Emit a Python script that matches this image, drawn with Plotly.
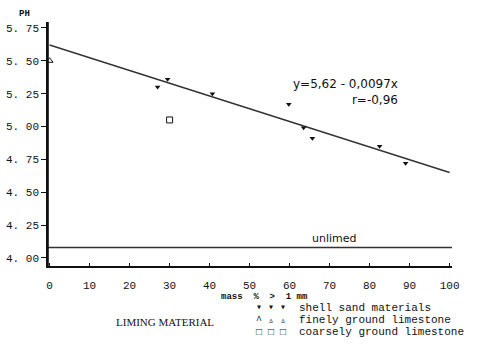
import plotly.graph_objects as go

# pH against the share of the liming material coarser than 1 mm
shell_mass = [27, 29.5, 40.7, 59.8, 63.5, 65.7, 82.5, 89]
shell_ph = [5.30, 5.36, 5.25, 5.17, 4.99, 4.91, 4.85, 4.72]
fine_mass = [0]
fine_ph = [5.50]
coarse_mass = [30]
coarse_ph = [5.05]

fit_intercept = 5.62
fit_slope = -0.0097
fit_x = [0, 100]
unlimed_ph = 4.08

y_ticks = [4.00, 4.25, 4.50, 4.75, 5.00, 5.25, 5.50, 5.75]
y_tick_labels = ["4. 00", "4. 25", "4. 50", "4. 75", "5. 00", "5. 25", "5. 50", "5. 75"]
x_ticks = [0, 10, 20, 30, 40, 50, 60, 70, 80, 90, 100]
x_tick_labels = ["0", "10", "20", "30", "40", "50", "60", "70", "80", "90", "100"]

INK = "#111111"
MONO = "Liberation Mono, DejaVu Sans Mono, monospace"
SANS = "DejaVu Sans, Verdana, sans-serif"

fig = go.Figure()

fig.add_trace(go.Scatter(
    x=fit_x, y=[fit_intercept + fit_slope * v for v in fit_x],
    mode="lines", line=dict(color="#333333", width=1.4), hoverinfo="skip"))

fig.add_trace(go.Scatter(
    x=shell_mass, y=shell_ph, mode="markers",
    marker=dict(symbol="triangle-down", size=5, color=INK)))
fig.add_trace(go.Scatter(
    x=fine_mass, y=fine_ph, mode="markers", cliponaxis=False,
    marker=dict(symbol="triangle-up-open", size=6, color=INK, line=dict(width=1))))
fig.add_trace(go.Scatter(
    x=coarse_mass, y=coarse_ph, mode="markers",
    marker=dict(symbol="square-open", size=6, color=INK, line=dict(width=1))))

# unlimed reference level across the whole plot width
fig.add_shape(type="line", xref="paper", x0=0, x1=1, yref="y",
              y0=unlimed_ph, y1=unlimed_ph, line=dict(color="#333333", width=1.4))

# left frame line of the plot area
fig.add_shape(type="line", xref="paper", yref="paper", x0=0, x1=0, y0=0, y1=1,
              layer="above", line=dict(color=INK, width=1.6))

fig.add_annotation(x=71.3, y=unlimed_ph, yshift=9, text="unlimed", showarrow=False,
                   font=dict(family=SANS, size=11, color=INK))

fig.add_annotation(x=87.6, y=5.26, xanchor="right", yanchor="middle", align="right",
                   showarrow=False, text="y=5,62 - 0,0097x<br>r=-0,96",
                   font=dict(family=SANS, size=12, color=INK))

fig.add_annotation(xref="paper", yref="paper", x=-0.057, y=1.033, xanchor="center",
                   yanchor="middle", text="<b>PH</b>",
                   showarrow=False, font=dict(family=MONO, size=9, color=INK))

fig.add_annotation(xref="paper", yref="paper", x=0.537, y=-0.125, xanchor="center",
                   yanchor="middle", text="<b>mass  %  >  1 mm</b>", showarrow=False,
                   font=dict(family=MONO, size=9, color=INK))

# material key below the axis
fig.add_annotation(xref="paper", yref="paper", x=0.29, y=-0.229, xanchor="center",
                   yanchor="middle", text="LIMING MATERIAL", showarrow=False,
                   font=dict(family="Liberation Serif, serif", size=11, color=INK))

key_rows = [("▾ ▾ ▾", "shell sand materials", -0.172),
            ("^ ▵ ▵", "finely ground limestone", -0.222),
            ("□ □ □", "coarsely ground limestone", -0.272)]
for sym, label, yy in key_rows:
    fig.add_annotation(xref="paper", yref="paper", x=0.551, y=yy, xanchor="center",
                       yanchor="middle", text=sym, showarrow=False,
                       font=dict(family=MONO, size=10, color=INK))
    fig.add_annotation(xref="paper", yref="paper", x=0.616, y=yy, xanchor="left",
                       yanchor="middle", text=label, showarrow=False,
                       font=dict(family=MONO, size=11, color=INK))

fig.update_layout(
    width=494, height=357,
    margin=dict(l=48, r=42, t=22, b=91),
    paper_bgcolor="white", plot_bgcolor="white",
    showlegend=False,
    xaxis=dict(range=[-0.4, 100.6], tickvals=x_ticks, ticktext=x_tick_labels,
               automargin=False,
               showgrid=False, zeroline=False, showline=True, linecolor=INK, linewidth=1.5,
               ticks="inside", ticklen=3, tickcolor=INK, ticklabelstandoff=8,
               tickfont=dict(family=MONO, size=11, color=INK)),
    yaxis=dict(range=[3.939, 5.795], tickvals=y_ticks, ticktext=y_tick_labels,
               automargin=False,
               showgrid=False, zeroline=False, showline=True, linecolor=INK, linewidth=1.6,
               ticks="outside", ticklen=5, tickwidth=1.3, tickcolor=INK,
               tickfont=dict(family=MONO, size=11, color=INK)),
)

fig.write_html("out.html")
